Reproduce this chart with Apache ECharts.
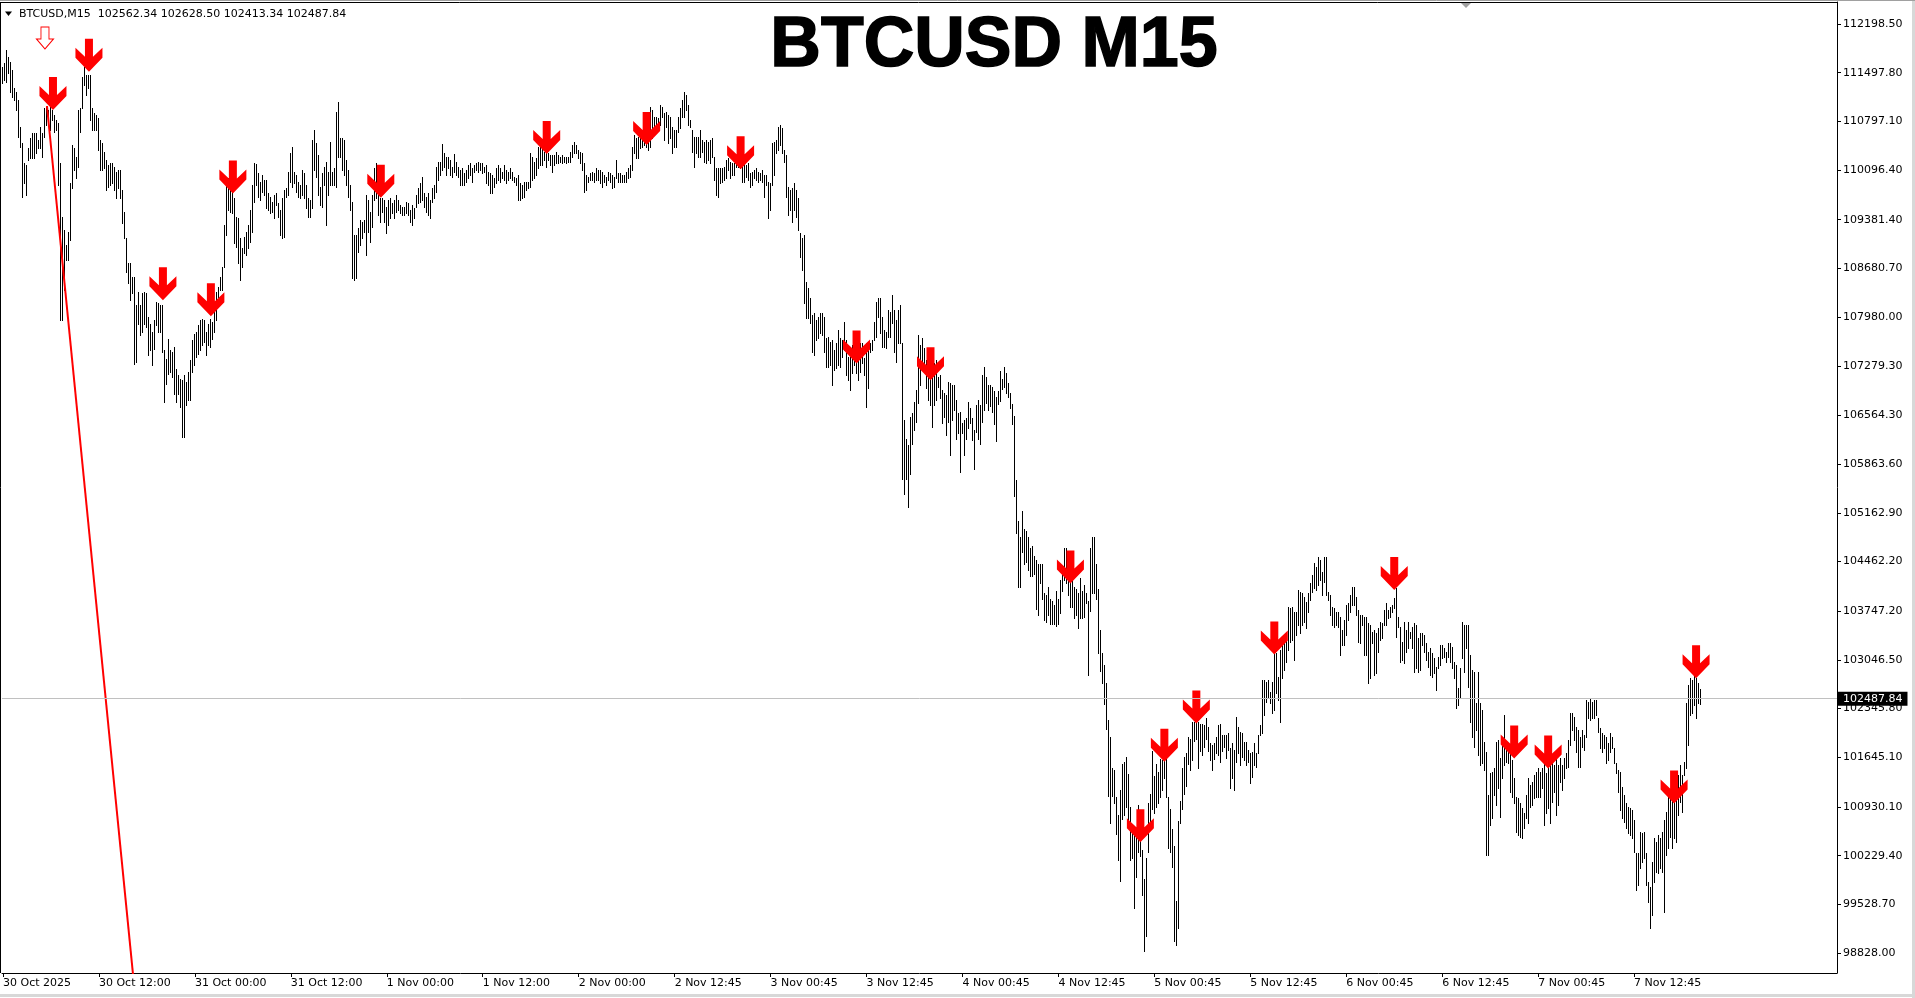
<!DOCTYPE html>
<html><head><meta charset="utf-8">
<style>html,body{margin:0;padding:0;background:#fff;}#c{width:1915px;height:998px;}</style>
<script src="https://cdn.jsdelivr.net/npm/echarts@6/dist/echarts.min.js"></script>
</head><body><div id="c"></div>
<script>
const chartTitle = 'BTCUSD M15';
const headerSymbol = 'BTCUSD,M15';
const lastBar = {open:102562.34, high:102628.50, low:102413.34, close:102487.84};
const timeLabels = ['30 Oct 2025','30 Oct 12:00','31 Oct 00:00','31 Oct 12:00','1 Nov 00:00','1 Nov 12:00','2 Nov 00:00','2 Nov 12:45','3 Nov 00:45','3 Nov 12:45','4 Nov 00:45','4 Nov 12:45','5 Nov 00:45','5 Nov 12:45','6 Nov 00:45','6 Nov 12:45','7 Nov 00:45','7 Nov 12:45'];
const priceTicks = [112198.50,111497.80,110797.10,110096.40,109381.40,108680.70,107980.00,107279.30,106564.30,105863.60,105162.90,104462.20,103747.20,103046.50,102345.80,101645.10,100930.10,100229.40,99528.70,98828.00];
const highs = [
111584,111632,111824,111728,111656,111536,111272,111224,111104,110720,
110480,110192,110168,110408,110552,110624,110624,110624,110528,110720,
110624,110984,111008,110960,111008,110960,110888,110816,110768,110192,
109424,109232,109016,109208,109904,110456,110408,110288,110960,110984,
111440,111584,111464,111464,111464,110984,110912,110888,110840,110528,
110480,110360,110240,110168,110192,110192,110144,110072,110096,110096,
109808,109496,109112,108752,108752,108560,108560,108152,108344,108152,
108320,108344,108320,107984,107888,107768,107936,108200,108176,108152,
108152,107504,107384,107672,107504,107480,107552,107240,107144,107096,
107072,107144,107048,107192,107360,107648,107744,107768,107864,107936,
107960,107936,107768,107888,107960,107912,108128,108344,108416,108560,
108704,109304,109880,109976,109904,110000,109688,109424,109400,109112,
108968,109136,109209,109305,109521,109881,110193,110183,110049,109929,
110025,109953,109953,109761,109713,109641,109737,109761,109617,109521,
109689,109809,109833,110073,110337,110433,110073,110025,109929,109881,
110097,110049,109881,109689,109665,110529,110673,110481,110313,109857,
110049,110145,110217,110073,110505,110073,110121,110937,111081,110553,
110553,110529,110241,110097,109881,109641,109161,109161,109257,109377,
109353,109377,109737,109665,109497,109737,110121,110193,109905,109689,
109689,109665,109569,109665,109689,109617,109665,109737,109665,109593,
109569,109569,109641,109617,109521,109593,109545,109737,109833,109905,
110001,109761,109713,109761,109665,109833,109881,110145,110217,110217,
110466,110337,110289,110289,110241,110145,110327,110217,110145,110097,
110121,110049,110097,110169,110193,110121,110169,110193,110217,110193,
110193,110145,110169,110073,110049,110025,109977,110121,110169,110121,
110073,110169,110097,110073,110121,110073,110001,109977,110025,109905,
109881,109929,109929,109929,110337,110289,110217,110265,110433,110433,
110457,110361,110337,110337,110313,110313,110313,110361,110313,110289,
110313,110289,110289,110289,110361,110457,110505,110457,110385,110361,
110337,110193,110025,110001,110049,110073,110049,110121,110097,110097,
110073,110025,110001,110073,110049,110025,110001,110241,110049,110049,
110025,110025,110073,110121,110169,110433,110601,110553,110577,110601,
110625,110601,110601,110553,111009,110961,110865,110865,110841,111033,
111009,110913,110937,110889,110865,110721,110673,110673,110865,110985,
111105,111225,111177,111033,110817,110673,110577,110577,110577,110673,
110529,110505,110529,110505,110529,110553,110289,110121,110121,110121,
110121,110145,110241,110265,110217,110193,110193,110265,110241,110241,
110169,110193,110169,110193,110049,110073,110097,110121,110073,110049,
110097,110025,110025,109929,109905,110481,110505,110529,110721,110745,
110697,110385,110313,109857,109809,109833,109905,109809,109689,109185,
109113,109161,108489,108393,108249,108009,108033,107937,107985,108033,
108033,107985,107673,107697,107625,107649,107505,107601,107793,107673,
107649,107913,107649,107409,107409,107577,107505,107457,107385,107601,
107601,107385,107601,107601,107601,107649,107913,108201,108249,108249,
107985,107793,107769,108081,108057,108297,108081,107937,108081,108153,
107601,106497,106233,106137,106545,106593,106761,106929,107721,107577,
107673,107529,107361,107337,107145,107241,107313,107361,107121,107145,
106929,106881,106857,107049,107025,107001,107001,106785,106593,106617,
106449,106497,106521,106761,106665,106521,106353,106713,106785,106713,
107143,107255,107115,107003,107003,106975,106919,106835,106919,107199,
107087,107255,107171,107031,106891,106723,106555,105631,105043,104819,
105183,104931,104903,104819,104651,104679,104539,104483,104427,104427,
104427,104007,103979,104091,103923,103895,103839,104035,103923,104203,
104287,104651,104651,104567,104371,104231,104091,104063,104007,104231,
104035,104119,104007,103895,104651,104819,104819,104427,104063,103475,
103139,102971,102719,102187,101935,101487,101459,101067,100815,101179,
101543,101571,101655,101403,100927,100591,100563,100563,100955,100507,
100311,99891,100199,100983,101123,101739,101375,101543,101431,101627,
101599,101627,101739,101067,100899,100619,100367,99583,100731,101011,
101487,101655,101711,101935,101907,102159,102159,102215,102159,102131,
102131,102103,102215,102075,101851,101823,101851,101935,102103,102131,
101963,101963,101964,101988,101772,101844,101748,102228,102084,102012,
101988,101868,101868,101748,101700,101724,101844,101700,101964,102108,
102756,102756,102732,102756,102588,102732,103140,103140,102804,103188,
103284,103308,103380,103812,103788,103812,103740,103740,104052,104028,
104004,103956,103884,104004,104148,104268,104436,104388,104532,104484,
104316,104532,104532,104028,103980,103812,103788,103740,103740,103668,
103476,103620,103836,103860,103980,104100,104100,103956,103764,103692,
103692,103668,103668,103572,103548,103452,103476,103428,103500,103596,
103572,103764,103860,103764,103812,103836,103932,104076,103668,103524,
103308,103596,103476,103596,103452,103524,103572,103548,103356,103428,
103428,103404,103284,103164,103212,103140,103068,102948,103092,103260,
103260,103212,103164,103284,103284,103236,103020,102972,102636,102924,
103596,103548,103548,103549,103117,102901,102877,102421,102877,102421,
102325,101869,101725,101101,101413,101437,101485,101869,101893,101629,
101869,102253,101845,101821,101797,101605,101341,101077,101053,100981,
100909,100837,101101,101341,101245,101293,101389,101437,101485,101437,
101485,101557,101413,101485,101629,101629,101533,101677,101533,101629,
101533,101629,101701,101893,102277,102277,102229,102085,102037,101941,
102037,101965,102469,102445,102493,102445,102469,102469,102205,102061,
101989,101965,101941,101845,101989,101941,101773,101557,101461,101437,
101221,101101,100981,100933,100909,100885,100741,100261,100261,100573,
100549,100573,100261,99853,99781,100141,100477,100429,100525,100477,
100573,100741,100861,101077,101149,101197,101293,101077,101389,101533,
101389,101581,102421,102685,102781,102757,102829,102781,102709,102628.5
];
const lows = [
111344,111392,111368,111488,111224,111152,111104,110960,110576,110432,
109712,109904,109736,110240,110264,110264,110264,110336,110408,110408,
110288,110576,110744,110792,110672,110816,110648,110672,109880,107936,
107936,108368,108800,108800,109088,109832,110096,109976,110144,110648,
110984,111320,111176,111272,110816,110672,110672,110672,110384,110096,
110096,110120,109808,109856,109880,109904,109808,109688,109832,109688,
109328,109112,108632,108464,108224,108320,107312,107336,107888,107720,
107768,107888,107840,107432,107504,107288,107528,107864,107768,107768,
107480,106760,107024,107168,107192,107120,106880,106760,106880,106688,
106256,106256,106712,106784,106784,107192,107288,107408,107456,107504,
107576,107624,107432,107576,107552,107672,107768,107936,108272,108368,
108368,108704,109160,109520,109496,109472,109040,108992,108752,108512,
108704,108896,108873,108969,109065,109209,109641,109881,109713,109665,
109785,109737,109545,109521,109473,109497,109401,109593,109425,109161,
109113,109137,109713,109737,109929,109857,109905,109785,109713,109689,
109737,109689,109545,109425,109425,109545,110097,110001,109737,109593,
109569,109881,109305,109737,109881,109881,109881,109857,110289,110289,
110097,110025,109881,109713,109521,108537,108513,108537,108921,109017,
109113,109209,108873,109209,109065,109281,109665,109689,109449,109353,
109497,109353,109185,109305,109401,109473,109401,109497,109521,109473,
109449,109449,109473,109449,109353,109305,109401,109569,109617,109641,
109665,109569,109497,109449,109401,109641,109689,109785,109953,110025,
110097,110145,110025,110121,110025,110001,110073,110025,110001,109881,
109881,109881,109929,109977,110025,109929,110073,110097,110073,110097,
110049,110073,109905,109881,109761,109761,109857,109905,109953,109929,
109977,109953,109905,109953,109977,109953,109929,109881,109665,109665,
109689,109713,109809,109833,109857,109953,109977,110025,110121,110169,
110169,110241,110145,110241,110169,110073,110169,110193,110193,110217,
110193,110217,110193,110217,110217,110289,110337,110337,110265,110193,
110097,109785,109809,109929,109953,109953,109929,109953,109953,109905,
109857,109929,109881,109953,109929,109833,109857,109977,109929,109929,
109929,109929,109929,109977,110001,110097,110337,110265,110265,110409,
110433,110457,110433,110385,110433,110553,110625,110649,110697,110745,
110865,110529,110721,110481,110553,110337,110433,110433,110649,110697,
110865,110865,110961,110745,110721,110361,110145,110337,110289,110289,
110361,110217,110193,110241,110193,110289,109953,109737,109713,109905,
109929,109953,109977,110097,109977,110025,110025,110145,110145,110121,
109929,109929,110001,109953,109857,109881,109977,109953,109929,109953,
109929,109713,109881,109401,109521,109881,110025,110337,110385,110457,
110337,110217,109713,109449,109521,109353,109521,109425,109233,108849,
108657,108177,107961,107961,107889,107481,107433,107649,107673,107745,
107721,107481,107265,107265,107289,107001,107217,107241,107289,107265,
107409,107505,107145,107073,106929,107169,107289,107169,107073,107193,
107313,107145,106689,106953,107481,107505,107649,107697,107985,107745,
107553,107553,107529,107697,107697,107889,107481,107337,107601,107601,
105657,105441,105657,105249,105729,106161,106353,106473,106737,107001,
107241,107217,106953,106785,106713,106401,106713,106785,106977,106809,
106449,106545,106281,106473,105993,106497,106641,106233,106305,105753,
106305,105993,106233,106377,106449,106209,105801,106329,106233,106161,
106471,106639,106751,106639,106695,106611,106443,106191,106723,106779,
106947,106975,106891,106835,106667,106443,105407,104875,104091,104091,
104595,104427,104455,104343,104259,104259,104287,103783,103699,104147,
103923,103615,103587,103699,103559,103559,103559,103531,103559,103727,
104035,104203,104147,103979,103811,103811,103643,103699,103503,103643,
103643,103671,103867,102831,103755,104007,104007,103923,103139,102887,
102719,102411,102047,101095,100703,101095,100983,100535,100171,99863,
100759,100815,100927,100703,100171,100199,99471,99919,100283,100227,
99667,98855,99079,100283,100619,100899,100843,100927,100983,101067,
101179,101347,101067,100339,100283,100059,98995,98939,99191,100703,
100899,101123,101235,101543,101459,101599,101879,101907,101487,101739,
101683,101795,101907,101739,101599,101459,101627,101711,101683,101571,
101739,101795,101628,101748,101196,101340,101172,101580,101700,101532,
101652,101604,101532,101580,101268,101364,101532,101508,101700,101964,
101988,102252,102444,102516,102420,102276,102324,102564,102468,102156,
102780,102900,103020,103188,103308,103332,103044,103404,103548,103428,
103548,103596,103500,103740,103908,104028,104076,104052,104124,104196,
103980,104172,103980,103908,103692,103548,103524,103548,103524,103116,
103260,103260,103404,103620,103740,103836,103836,103692,103308,103284,
103548,103116,103116,102708,102780,103284,102828,102852,103164,103332,
103356,103548,103548,103644,103668,103740,103788,103380,103524,103020,
103044,102996,103164,103212,103356,103212,102876,102924,102876,102900,
103260,103164,103044,102948,102828,102804,102852,102612,102924,102972,
103068,103092,103020,103092,103020,102924,102780,102348,102396,102492,
103068,102876,103212,102661,102157,101941,101797,102037,101677,101533,
101557,101461,100237,100237,100669,100765,101101,100957,101197,100789,
101341,101533,101581,101557,101149,101077,100981,100573,100525,100501,
100477,100621,100765,100693,100933,100957,101053,101077,101077,101077,
101197,100669,100837,100909,100693,101005,101149,100813,100957,101293,
101173,101341,101485,101509,101821,102037,101893,101725,101509,101509,
101797,101749,101941,102205,102181,102205,102205,102253,102013,101773,
101725,101773,101557,101605,101725,101773,101557,101413,101149,100885,
100765,100717,100621,100549,100525,100477,100285,99733,99805,100045,
100141,100189,99805,99565,99181,99373,99853,99997,99973,100045,
99997,99421,100237,100333,100501,100333,100477,100429,100813,101005,
100861,101389,101485,101821,102253,102277,102397,102205,102421,102413.34
];
const arrowBars   = [25,43,80,104,115,189,272,322,369,427,464,534,569,581,597,636,696,756,773,836,847];
const arrowPrices = [110960,111512,108224,107994,109760,109698,110327,110456,110107,107313,107073,104147,100423,101582,102131,103126,104052,101629,101485,100981,102781];
const hollowArrowBar = 21, hollowArrowPrice = 111839;
const redLineBars = [22, 66];
const redLinePrices = [111018, 98242];
const TOTAL_SLOTS = 918;
const Y_MIN = 98540.5, Y_MAX = 112515.1;

const FONT = 'DejaVu Sans';
const chart = echarts.init(document.getElementById('c'), null, {renderer:'canvas'});
const cats = Array.from({length: TOTAL_SLOTS}, (_, i) => String(i));
const bars = highs.map((h, i) => [i, h, lows[i]]);
const labelInterval = (idx) => idx % 48 === 0 && idx / 48 < timeLabels.length;
const ARROW = 'path://M9.5,0 L17.5,0 L17.5,18 L27,9 L27,19 L13.5,33 L0,19 L0,9 L9.5,18 Z';
const HOLLOW = 'path://M4.5,0 L12.5,0 L12.5,12 L17,12 L8.5,22 L0,12 L4.5,12 Z';

const option = {
  animation: false,
  backgroundColor: '#fff',
  grid: {left: 0, right: 78, top: 2, bottom: 25, containLabel: false},
  xAxis: {
    type: 'category', data: cats, boundaryGap: true,
    axisLine: {show: true, lineStyle: {color: '#000', width: 1}},
    axisTick: {show: true, interval: labelInterval, alignWithLabel: true, length: 4, lineStyle: {color: '#000'}},
    axisLabel: {interval: labelInterval, formatter: (v, idx) => timeLabels[Math.round(idx / 48)] || '', align: 'left',
      margin: 5, color: '#000', fontFamily: FONT, fontSize: 11},
    splitLine: {show: false}
  },
  yAxis: {
    type: 'value', position: 'right', min: Y_MIN, max: Y_MAX,
    axisLine: {show: true, lineStyle: {color: '#000'}},
    axisTick: {show: true, length: 4, customValues: priceTicks, lineStyle: {color: '#000'}},
    axisLabel: {customValues: priceTicks, formatter: v => Number(v).toFixed(2), margin: 6, color: '#000', fontFamily: FONT, fontSize: 11},
    splitLine: {show: false}
  },
  series: [
    {
      type: 'line', z: 1, data: [[0, lastBar.close]], showSymbol: false, symbol: 'none',
      lineStyle: {opacity: 0}, silent: true,
      markLine: {
        silent: true, symbol: ['none', 'none'], animation: false,
        data: [{yAxis: lastBar.close}],
        lineStyle: {color: '#c0c0c0', width: 1, type: 'solid'},
        emphasis: {disabled: true},
        label: {show: true, position: 'end', distance: 0, formatter: lastBar.close.toFixed(2),
          color: '#fff', backgroundColor: '#000', padding: [2, 5, 1, 6], fontFamily: FONT, fontSize: 11}
      }
    },
    {
      type: 'custom', z: 2, clip: true, data: bars, encode: {x: 0, y: [1, 2]}, silent: true,
      renderItem: (params, api) => {
        const i = api.value(0);
        const top = api.coord([i, api.value(1)]);
        const bot = api.coord([i, api.value(2)]);
        const x = Math.floor(top[0]);
        const y1 = Math.round(top[1]), y2 = Math.round(bot[1]);
        return {type: 'rect', shape: {x: x, y: y1, width: 1, height: Math.max(1, y2 - y1 + 1)}, style: {fill: '#000'}};
      }
    },
    {
      type: 'line', z: 3, data: redLineBars.map((b, k) => [b, redLinePrices[k]]), symbol: 'none', showSymbol: false,
      lineStyle: {color: '#ff0000', width: 2}, silent: true, clip: true
    },
    {
      type: 'scatter', z: 4, silent: true, data: arrowBars.map((b, k) => [b, arrowPrices[k]]),
      symbol: ARROW, symbolSize: [27, 33], symbolOffset: [0, '-50%'],
      itemStyle: {color: '#ff0000', opacity: 1}
    },
    {
      type: 'scatter', z: 4, silent: true, data: [[hollowArrowBar, hollowArrowPrice]],
      symbol: HOLLOW, symbolSize: [17, 22], symbolOffset: [0, '-50%'],
      itemStyle: {color: '#ffffff', borderColor: '#ff0000', borderWidth: 1, opacity: 1}
    }
  ],
  graphic: [
    {type: 'line', silent: true, shape: {x1: 0, y1: 2.5, x2: 1837, y2: 2.5}, style: {stroke: '#000', lineWidth: 1}},
    {type: 'line', silent: true, shape: {x1: 0.5, y1: 2, x2: 0.5, y2: 973}, style: {stroke: '#000', lineWidth: 1}},
    {type: 'line', silent: true, shape: {x1: 0, y1: 995.5, x2: 1915, y2: 995.5}, style: {stroke: '#d8d8d8', lineWidth: 3}},
    {type: 'line', silent: true, shape: {x1: 1913.5, y1: 0, x2: 1913.5, y2: 998}, style: {stroke: '#d8d8d8', lineWidth: 3}},
    {type: 'line', silent: true, shape: {x1: 0, y1: 0.5, x2: 1915, y2: 0.5}, style: {stroke: '#a0a0a0', lineWidth: 1}},
    {type: 'polygon', silent: true, shape: {points: [[1461, 3], [1471, 3], [1466, 8]]}, style: {fill: '#a0a0a0'}},
    {type: 'polygon', silent: true, shape: {points: [[5, 11.5], [12, 11.5], [8.5, 16]]}, style: {fill: '#000'}},
    {type: 'text', silent: true, x: 19, y: 14,
      style: {text: headerSymbol + '  ' + [lastBar.open, lastBar.high, lastBar.low, lastBar.close].map(v => v.toFixed(2)).join(' '),
        fill: '#000', font: '11px "DejaVu Sans"', textAlign: 'left', textVerticalAlign: 'middle', align: 'left', verticalAlign: 'middle'}},
    {type: 'text', silent: true, x: 994, y: 47,
      style: {text: chartTitle, fill: '#000', stroke: '#000', lineWidth: 1.5, font: 'bold 70px "Liberation Sans"', textAlign: 'center', textVerticalAlign: 'middle', align: 'center', verticalAlign: 'middle'}}
  ]
};
chart.setOption(option);
</script>
</body></html>
